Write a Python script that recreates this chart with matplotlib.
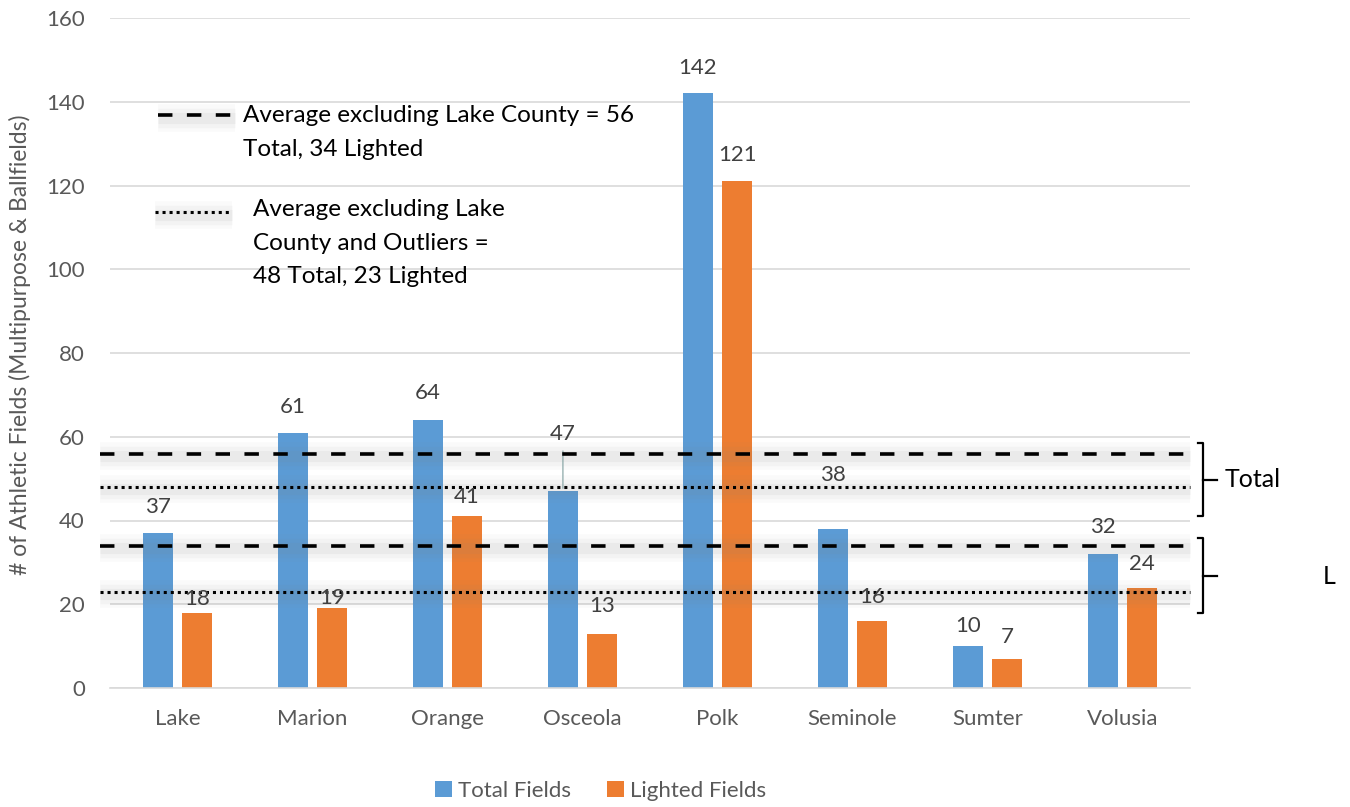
import matplotlib
matplotlib.use('Agg')
import matplotlib.pyplot as plt
import matplotlib.transforms as mtransforms
import numpy as np

plt.rcParams['font.family'] = ['Lato', 'DejaVu Sans']

counties = ['Lake', 'Marion', 'Orange', 'Osceola', 'Polk', 'Seminole', 'Sumter', 'Volusia']
total_fields = [37, 61, 64, 47, 142, 38, 10, 32]
lighted_fields = [18, 19, 41, 13, 121, 16, 7, 24]

# averages excluding Lake County: (total, lighted)
avg_excl_lake = (56, 34)
avg_excl_outliers = (48, 23)

# how far above each bar the value label sits (pixels)
total_lift = [26, 26, 27, 57, 25, 54, 20, 27]
lighted_lift = [14, 10, 19, 28, 26, 24, 22, 24]

BLUE = '#5B9BD5'
ORANGE = '#ED7D31'
GREY = '#595959'

fig = plt.figure(figsize=(13.5, 8.07), dpi=100)
ax = fig.add_axes([110 / 1350, 1 - 688 / 807, 1080 / 1350, 670 / 807])

x = np.arange(len(counties))
w = 0.22
ax.bar(x - 0.145, total_fields, w, color=BLUE, zorder=2, label='Total Fields')
ax.bar(x + 0.145, lighted_fields, w, color=ORANGE, zorder=2, label='Lighted Fields')

ax.set_xlim(-0.5, len(counties) - 0.5)
ax.set_ylim(0, 160)
ax.set_yticks(range(0, 161, 20))
ax.set_xticks(x)
ax.set_xticklabels(counties)
ax.tick_params(axis='both', length=0, labelsize=16, labelcolor=GREY)
ax.tick_params(axis='y', pad=18)
ax.tick_params(axis='x', pad=15)
ax.grid(axis='y', color='#D9D9D9', lw=1.2, zorder=0)
for s in ax.spines.values():
    s.set_visible(False)
ax.spines['bottom'].set_visible(True)
ax.spines['bottom'].set_color('#D9D9D9')
ax.spines['bottom'].set_linewidth(1.2)

px = 72 / fig.dpi  # points per pixel
for xi, v, lift in zip(x - 0.145, total_fields, total_lift):
    ax.annotate(str(v), (xi, v), xytext=(0, lift * px), textcoords='offset points',
                ha='center', va='center', fontsize=16, color='#404040', zorder=5)
for xi, v, lift in zip(x + 0.145, lighted_fields, lighted_lift):
    ax.annotate(str(v), (xi, v), xytext=(0, lift * px), textcoords='offset points',
                ha='center', va='center', fontsize=16, color='#404040', zorder=5)

# leader line for the Osceola label
osc = counties.index('Osceola')
ax.annotate('', (osc - 0.145, total_fields[osc]), xytext=(0, 43 * px), textcoords='offset points',
            arrowprops=dict(arrowstyle='-', color='#7f9f9f', lw=0.8), zorder=4)


def halo(xs, ys, transform=None):
    kw = {} if transform is None else {'transform': transform}
    for lw, a in [(20, 0.035), (14, 0.05), (8, 0.07)]:
        ax.plot(xs, ys, color='#808080', lw=lw, alpha=a, solid_capstyle='butt',
                clip_on=False, zorder=3, **kw)


def avg_line(y, style):
    xs = [-0.575, len(counties) - 0.5]
    halo(xs, [y - 0.5, y - 0.5])
    if style == 'dash':
        ax.plot(xs, [y, y], color='black', lw=2.6, dashes=(4.0, 4.0), clip_on=False, zorder=4)
    else:
        ax.plot(xs, [y, y], color='black', lw=2.2, dashes=(1, 1.3), clip_on=False, zorder=4)


avg_line(avg_excl_lake[0], 'dash')
avg_line(avg_excl_lake[1], 'dash')
avg_line(avg_excl_outliers[0], 'dot')
avg_line(avg_excl_outliers[1], 'dot')

# key for the average lines
ta = ax.transAxes
halo([0.044, 0.116], [0.851, 0.851], ta)
halo([0.042, 0.113], [0.706, 0.706], ta)
ax.plot([0.044, 0.116], [0.855, 0.855], transform=ta, color='black', lw=2.6, dashes=(4.0, 4.0), zorder=4)
ax.plot([0.042, 0.113], [0.710, 0.710], transform=ta, color='black', lw=2.2, dashes=(1, 1.3), zorder=4)
ax.text(0.123, 0.829,
        'Average excluding Lake County = %d\nTotal, %d Lighted' % avg_excl_lake,
        transform=ta, ha='left', va='center', fontsize=17.5, color='black',
        linespacing=1.75, zorder=5)
ax.text(0.132, 0.664,
        'Average excluding Lake\nCounty and Outliers =\n%d Total, %d Lighted' % avg_excl_outliers,
        transform=ta, ha='left', va='center', fontsize=17.5, color='black',
        linespacing=1.75, zorder=5)

# brackets grouping the total and lighted averages
bt = mtransforms.blended_transform_factory(ax.transAxes, ax.transData)


def bracket(top, bottom, mid, label, lx):
    ax.plot([1.007, 1.012, 1.012, 1.007], [top, top, bottom, bottom], transform=bt,
            color='black', lw=1.6, clip_on=False)
    ax.plot([1.012, 1.025], [mid, mid], transform=bt, color='black', lw=1.6, clip_on=False)
    ax.text(lx, mid, label, transform=bt, ha='left', va='center', fontsize=18, color='black')


bracket(58.5, 41.1, 49.7, 'Total', 1.032)
bracket(35.8, 17.9, 26.7, 'L', 1.123)

fig.text(20 / 1350, 1 - 345 / 807, '# of Athletic Fields (Multipurpose & Ballfields)',
         rotation=90, ha='center', va='center', fontsize=16.5, color=GREY)

fig.legend(loc='center', bbox_to_anchor=(0.445, 0.02), ncol=2, frameon=False,
           fontsize=16, labelcolor=GREY, handlelength=0.75, handleheight=0.75,
           handletextpad=0.3, columnspacing=1.6)

fig.savefig('out.png', dpi=100)
